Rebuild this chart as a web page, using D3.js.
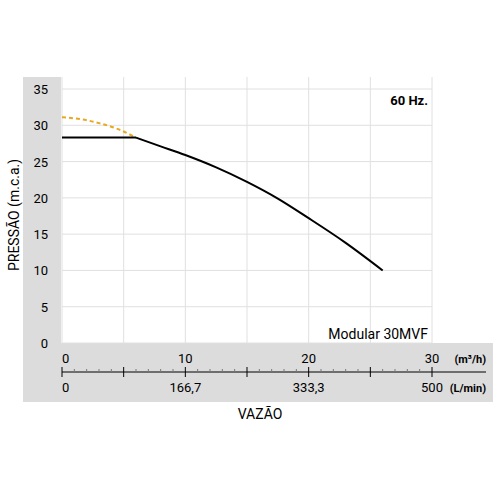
<!DOCTYPE html><html><head><meta charset="utf-8"><script src="https://cdn.jsdelivr.net/npm/d3@7"></script>
<style>body{margin:0;background:#fff}text{font-family:Roboto,sans-serif}</style></head><body><svg id="c" width="500" height="500"></svg><script>
const xTicks=[0,10,20,30];
const lminLabels=["0","166,7","333,3","500"];
const yTicks=[0,5,10,15,20,25,30,35];
const flatPart=[[0,28.3],[6,28.3]];
const mainCurve=[[6,28.3],[8,27.1],[10,25.9],[12.5,24.2],[15,22.2],[17.5,19.9],[20,17.2],[23,13.8],[26,10]];
const dashCurve=[[0,31.1],[1.5,30.85],[3,30.3],[4.5,29.5],[6,28.3]];
const svg=d3.select("#c");
const x=d3.scaleLinear([0,30],[62,432]);
const y=d3.scaleLinear([0,35],[343,89]);
svg.append("rect").attr("x",23).attr("y",77).attr("width",38).attr("height",266).attr("fill","#dcdcdc");
svg.append("rect").attr("x",23).attr("y",343).attr("width",470).attr("height",59).attr("fill","#dcdcdc");
const g=svg.append("g");
d3.range(0,31,5).forEach(v=>g.append("line").attr("x1",x(v)).attr("x2",x(v)).attr("y1",77).attr("y2",343).attr("stroke","#e0e0e0"));
yTicks.forEach(v=>g.append("line").attr("x1",62).attr("x2",432).attr("y1",y(v)).attr("y2",y(v)).attr("stroke","#e0e0e0"));
yTicks.forEach(v=>svg.append("text").attr("x",48).attr("y",y(v)+5).attr("text-anchor","end").attr("font-size",13).text(v));
xTicks.forEach(v=>svg.append("text").attr("x",x(v)).attr("y",363).attr("text-anchor",v?"middle":"start").attr("font-size",13).text(v));
lminLabels.forEach((t,i)=>svg.append("text").attr("x",x(xTicks[i])).attr("y",392).attr("text-anchor",i?"middle":"start").attr("font-size",13).text(t));
svg.append("text").attr("x",486).attr("y",363).attr("text-anchor","end").attr("font-size",11).attr("font-weight","bold").text("(m³/h)");
svg.append("text").attr("x",486).attr("y",392).attr("text-anchor","end").attr("font-size",11).attr("font-weight","bold").text("(L/min)");
svg.append("line").attr("x1",62).attr("x2",486).attr("y1",372).attr("y2",372).attr("stroke","#000");
d3.range(0,31,1).forEach(v=>svg.append("line").attr("x1",x(v)).attr("x2",x(v)).attr("y1",v%5?369:367).attr("y2",v%5?372:377).attr("stroke",v%5?"#777":"#000"));
const line=d3.line().x(d=>x(d[0])).y(d=>y(d[1])).curve(d3.curveMonotoneX);
svg.append("path").attr("d",line(dashCurve)).attr("fill","none").attr("stroke","#e8a820").attr("stroke-width",2).attr("stroke-dasharray","4,3");
svg.append("path").attr("d",d3.line().x(d=>x(d[0])).y(d=>y(d[1]))(flatPart)).attr("fill","none").attr("stroke","#000").attr("stroke-width",2);
svg.append("path").attr("d",line(mainCurve)).attr("fill","none").attr("stroke","#000").attr("stroke-width",2);
svg.append("text").attr("x",428).attr("y",105).attr("text-anchor","end").attr("font-size",13).attr("font-weight","bold").text("60 Hz.");
svg.append("text").attr("x",428).attr("y",339).attr("text-anchor","end").attr("font-size",14).text("Modular 30MVF");
svg.append("text").attr("x",260).attr("y",419).attr("text-anchor","middle").attr("font-size",14).text("VAZÃO");
svg.append("text").attr("transform","translate(19,215) rotate(-90)").attr("text-anchor","middle").attr("font-size",14).text("PRESSÃO (m.c.a.)");
</script></body></html>
